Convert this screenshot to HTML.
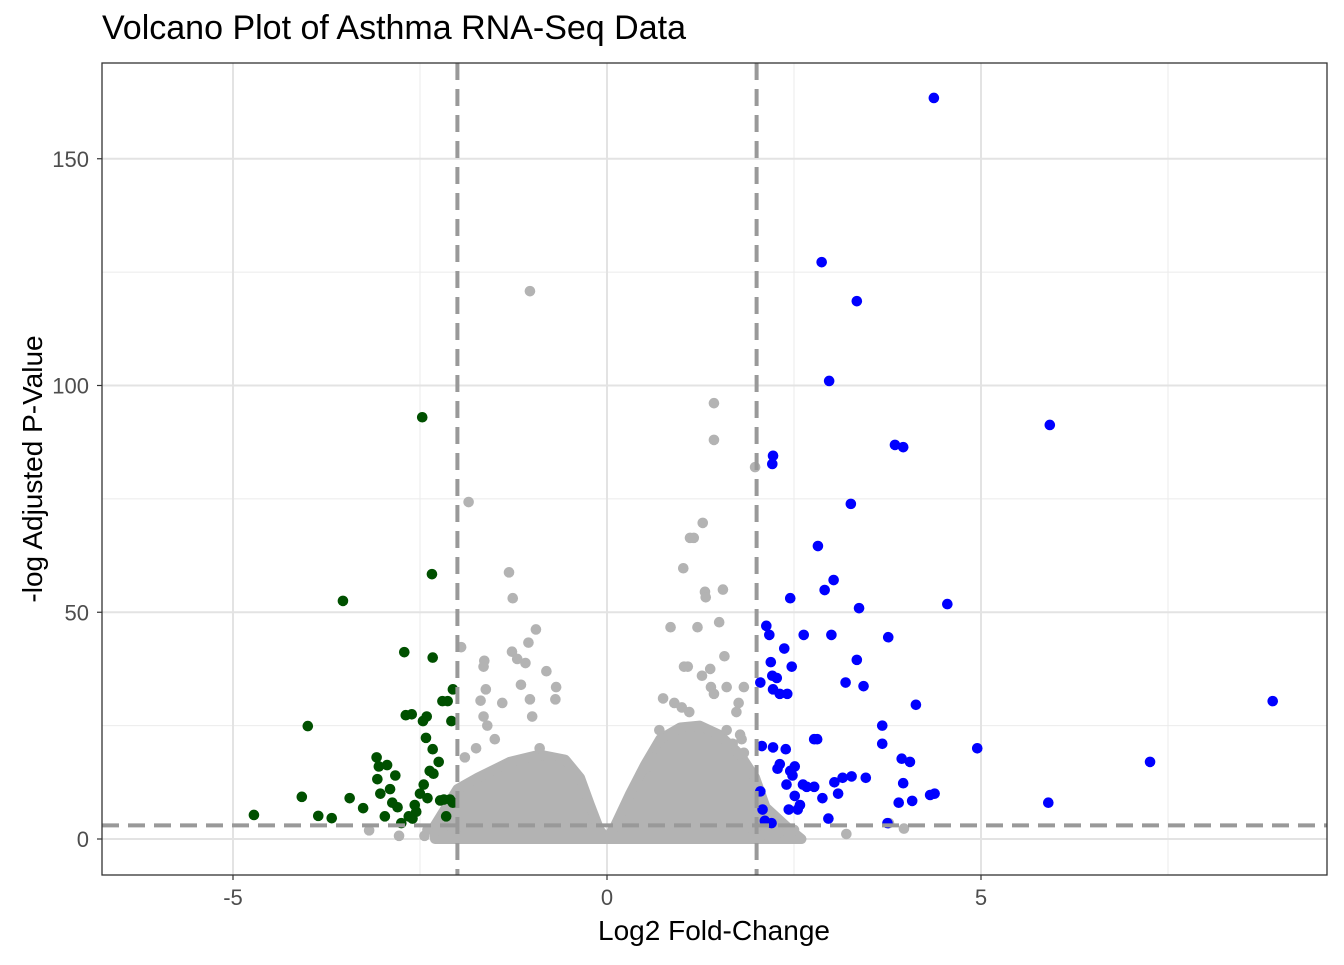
<!DOCTYPE html>
<html><head><meta charset="utf-8"><style>
body{margin:0;background:#fff;}
svg text{font-family:"Liberation Sans",Arial,sans-serif;}
</style></head><body>
<svg id="chart" width="1344" height="960" xmlns="http://www.w3.org/2000/svg">
<rect width="1344" height="960" fill="#fff"/>
<text x="102" y="39" font-size="34" fill="#000">Volcano Plot of Asthma RNA-Seq Data</text>
<g id="grid"></g>
<g id="cloud"></g>
<g id="pts"></g>
<g id="thresh"></g>
<rect x="102" y="63" width="1225" height="812" fill="none" stroke="#333" stroke-width="1.3"/>
<g id="axes"></g>
<text x="714" y="940" font-size="28" text-anchor="middle" fill="#000">Log2 Fold-Change</text>
<text transform="translate(42,469) rotate(-90)" font-size="28" text-anchor="middle" fill="#000">-log Adjusted P-Value</text>
</svg>
<script>
const xTicks=[-5,0,5];
const xMinor=[-2.5,2.5,7.5];
const yTicks=[0,50,100,150];
const yMinor=[25,75,125];
const thresholdsX=[-2,2];
const thresholdY=[3];
const leftLobeX=[-2.3,-2.0,-1.73,-1.3,-0.9,-0.56,-0.36,-0.23,-0.1,0];
const leftLobeY=[3,11,13.5,17,18.6,17.5,13.5,7.6,2,0];
const rightLobeX=[0,0.11,0.31,0.51,0.71,0.98,1.24,1.5,1.78,1.98,2.12,2.45,2.6];
const rightLobeY=[0,3,10,16.4,22,24.6,25,23,18.6,13.5,7,2,0];
const downX=[-4.72,-4.08,-4.0,-3.86,-3.68,-3.53,-3.44,-3.26,-3.08,-3.07,-3.05,-3.03,-2.97,-2.94,-2.9,-2.87,-2.83,-2.71,-2.69,-2.61,-2.57,-2.5,-2.47,-2.46,-2.42,-2.41,-2.37,-2.34,-2.33,-2.33,-2.32,-2.23,-2.2,-2.18,-2.13,-2.1,-2.08,-2.06,-2.06,-2.75,-2.65,-2.55,-2.45,-2.25,-2.15,-2.8,-2.6,-2.4];
const downY=[5.3,9.3,24.9,5.1,4.6,52.5,9,6.8,18,13.2,16,10,5,16.3,11,8,14,41.2,27.3,27.5,7.5,10,93,26,22.3,27,15,58.4,40,19.8,14.4,8.5,30.4,8.7,30.4,8.7,26,8,33,3.5,5,6,12,17,5,7,4.5,9];
const upX=[4.37,2.87,3.34,2.97,5.92,3.85,3.96,2.22,2.21,3.26,2.82,3.03,2.91,2.45,4.55,3.37,2.13,2.17,2.37,2.63,3.0,2.47,3.34,3.76,2.19,2.21,2.27,2.05,2.22,2.31,2.41,3.19,3.43,4.13,8.9,3.68,3.68,4.95,7.26,3.94,4.05,5.9,4.32,4.38,4.08,3.9,3.96,3.75,3.46,3.27,3.15,3.04,2.77,2.88,3.09,2.96,2.67,2.58,2.48,2.45,2.51,2.55,2.4,2.43,2.05,2.08,2.11,2.2,2.28,2.77,2.81,2.07,2.22,2.39,2.31,2.51,2.62];
const upY=[163.4,127.2,118.6,101,91.3,86.9,86.4,84.5,82.7,73.9,64.6,57.1,54.9,53.1,51.8,50.9,47,45,42,45,45,38,39.5,44.5,39,36,35.5,34.5,33,32,32,34.5,33.7,29.6,30.4,25,21,20,17,17.7,17,8,9.7,10,8.4,8,12.3,3.5,13.5,13.8,13.5,12.5,11.5,9,10,4.5,11.5,7.5,14,15,9.5,6.5,12,6.5,10.5,6.5,4,3.5,15.5,22,22,20.5,20.2,19.8,16.5,16,12];
const nsX=[-1.03,1.43,1.43,1.98,-1.85,1.28,1.11,1.16,1.02,-1.31,1.55,-1.26,-0.95,1.31,1.32,1.5,0.85,1.21,1.57,-1.95,-1.64,-1.65,-1.27,-1.2,-1.09,-1.05,1.83,1.6,1.27,1.39,1.08,1.03,-0.68,-0.69,-0.81,-1.15,-1.03,-1.69,-1.65,-1.62,1.73,1.76,1.78,1.68,1.83,3.2,3.97,3.77,-3.18,-2.78,-2.44,1.38,1.43,-1.6,-1.4,-1.0,-0.9,0.7,0.75,0.9,1.0,1.1,1.6,1.8,-1.9,-1.75,0.65,0.55,-0.75,-1.5,-2.4,-2.2,-2.0,1.95,2.1,2.3,2.5];
const nsY=[120.8,96.1,88,82,74.3,69.7,66.4,66.4,59.7,58.8,55,53.1,46.2,54.5,53.3,47.8,46.7,46.7,40.3,42.3,39.3,38,41.3,39.7,38.8,43.3,33.5,33.5,36,33.5,38,38,33.5,30.8,37,34,30.8,30.5,27,33,28,30,23,21,19,1.1,2.3,3.5,1.9,0.7,0.7,37.5,32,25,30,27,20,24,31,30,29,28,24,22,18,20,20,16,18,22,2,1.5,2.5,2,1,1.5,2];

const X0=102,X1=1327,Y0=63,Y1=875;
const sx=v=>607+v*74.8;
const sy=v=>839-v*4.535;
const NS='http://www.w3.org/2000/svg';
function mk(tag,attrs,parent){const e=document.createElementNS(NS,tag);for(const k in attrs)e.setAttribute(k,attrs[k]);parent.appendChild(e);return e;}
const grid=document.getElementById('grid'),axes=document.getElementById('axes');
xMinor.forEach(v=>{const l=mk('line',{x1:sx(v),x2:sx(v),y1:Y0,y2:Y1,stroke:'#ebebeb','stroke-width':1},grid);

});
yMinor.forEach(v=>{const l=mk('line',{x1:X0,x2:X1,y1:sy(v),y2:sy(v),stroke:'#ebebeb','stroke-width':1},grid);

});
xTicks.forEach(v=>{const l=mk('line',{x1:sx(v),x2:sx(v),y1:Y0,y2:Y1,stroke:'#e3e3e3','stroke-width':2},grid);


const t=mk('line',{x1:sx(v),x2:sx(v),y1:Y1,y2:Y1+5,stroke:'#333','stroke-width':1.2},axes);


const tx=mk('text',{x:sx(v),y:Y1+30,'font-size':22,'text-anchor':'middle',fill:'#4d4d4d'},axes);tx.textContent=v;

});
yTicks.forEach(v=>{const l=mk('line',{x1:X0,x2:X1,y1:sy(v),y2:sy(v),stroke:'#e3e3e3','stroke-width':2},grid);


const t=mk('line',{x1:X0-5,x2:X0,y1:sy(v),y2:sy(v),stroke:'#333','stroke-width':1.2},axes);


const tx=mk('text',{x:X0-13,y:sy(v)+8,'font-size':22,'text-anchor':'end',fill:'#4d4d4d'},axes);tx.textContent=v;

});
const cloud=document.getElementById('cloud');
function lobe(xs,ys,name){let p=xs.map((x,i)=>sx(x)+','+sy(ys[i])).join(' ');p+=' '+sx(xs[xs.length-1])+','+sy(0)+' '+sx(xs[0])+','+sy(0);
const e=mk('polygon',{points:p,fill:'#b3b3b3',stroke:'#b3b3b3','stroke-width':10,'stroke-linejoin':'round'},cloud);

}
lobe(leftLobeX,leftLobeY,'ns-cloud-left');
lobe(rightLobeX,rightLobeY,'ns-cloud-right');
const pts=document.getElementById('pts');
function dots(xs,ys,col,name){xs.forEach((x,i)=>{const c=mk('circle',{cx:sx(x),cy:sy(ys[i]),r:5.3,fill:col},pts);

});}
dots(nsX,nsY,'#b3b3b3','point-not-significant');
dots(downX,downY,'#005000','point-downregulated');
dots(upX,upY,'#0000ff','point-upregulated');
const th=document.getElementById('thresh');
thresholdsX.forEach(v=>{const l=mk('line',{x1:sx(v),x2:sx(v),y1:Y0,y2:Y1,stroke:'#999','stroke-width':4,'stroke-dasharray':'17 9'},th);

});
thresholdY.forEach(v=>{const l=mk('line',{x1:X0,x2:X1,y1:sy(v),y2:sy(v),stroke:'#999','stroke-width':4,'stroke-dasharray':'17 9'},th);

});
</script>
</body></html>
